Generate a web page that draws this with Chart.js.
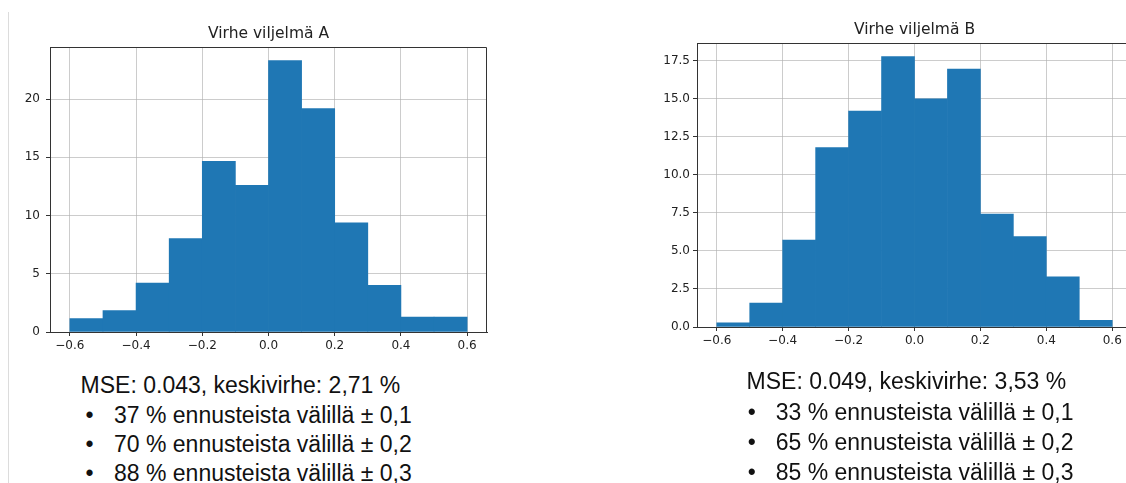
<!DOCTYPE html>
<html>
<head>
<meta charset="utf-8">
<script src="https://cdn.jsdelivr.net/npm/chart.js@4.4.1/dist/chart.umd.min.js"></script>
<style>
  body { margin: 0; width: 1126px; height: 483px; overflow: hidden; background: #fff; position: relative; font-family: "Liberation Sans", Arial, sans-serif; }
  canvas { position: absolute; top: 0; }
  #chartA { left: 0; }
  #chartB { left: 620px; }
  .rule { position: absolute; left: 8px; top: 12px; width: 1px; height: 471px; background: #dcdcdc; }
  .ln { position: absolute; font-size: 23px; line-height: 23px; color: #111; white-space: nowrap; }
</style>
</head>
<body>
<div class="rule"></div>
<canvas id="chartA" width="500" height="370"></canvas>
<canvas id="chartB" width="520" height="370"></canvas>
<div id="notes"></div>
<script>
// Histogram bins (centres of 0.1 wide bins)
const binCenters = [-0.55, -0.45, -0.35, -0.25, -0.15, -0.05, 0.05, 0.15, 0.25, 0.35, 0.45, 0.55];
const countsA = [1.15, 1.84, 4.2, 8.02, 14.66, 12.6, 23.3, 19.17, 9.37, 4.0, 1.29, 1.29];
const countsB = [0.28, 1.58, 5.72, 11.8, 14.2, 17.78, 15.0, 16.95, 7.42, 5.94, 3.29, 0.44];
const xTicks = [-0.6, -0.4, -0.2, 0.0, 0.2, 0.4, 0.6];
const yTicksA = [0, 5, 10, 15, 20];
const yTicksB = [0, 2.5, 5, 7.5, 10, 12.5, 15, 17.5];

// Stats below the charts
const mseA = '0.043', errA = '2,71';
const mseB = '0.049', errB = '3,53';
const withinA = [37, 70, 88];
const withinB = [33, 65, 85];
const ranges = ['0,1', '0,2', '0,3'];

const GRID = 'rgba(176,176,176,0.65)';
const SPINE = '#333';

// title over the plot + top/right frame like matplotlib
const framePlugin = {
    id: 'histTitle',
    afterDraw(chart, args, opts) {
        const ctx = chart.ctx, a = chart.chartArea;
        ctx.save();
        ctx.strokeStyle = SPINE;
        ctx.lineWidth = 1;
        ctx.beginPath();
        ctx.moveTo(a.left, Math.round(a.top) + 0.5);
        ctx.lineTo(Math.round(a.right) - 0.5, Math.round(a.top) + 0.5);
        ctx.lineTo(Math.round(a.right) - 0.5, a.bottom);
        ctx.stroke();
        ctx.font = '15.5px "DejaVu Sans"';
        ctx.fillStyle = '#222';
        ctx.textAlign = 'center';
        ctx.textBaseline = 'middle';
        ctx.fillText(opts.text, (a.left + a.right) / 2, a.top - 13);
        ctx.restore();
    }
};

function fmtX(v) {
    return (v < -1e-9 ? '\u2212' : '') + Math.abs(v).toFixed(1);
}

function hist(id, counts, yTicks, opt) {
    const ymax = Math.max(...counts) * 1.05;
    new Chart(document.getElementById(id), {
        type: 'bar',
        data: {
            datasets: [{
                data: binCenters.map((c, i) => ({ x: c, y: counts[i] })),
                backgroundColor: '#1f77b4',
                borderWidth: 0,
                barPercentage: 1,
                categoryPercentage: 1
            }]
        },
        options: {
            responsive: false,
            animation: false,
            layout: { padding: { top: opt.top, right: opt.right, left: 0, bottom: 0 } },
            plugins: {
                legend: { display: false },
                tooltip: { enabled: false },
                histTitle: { text: opt.title }
            },
            scales: {
                x: {
                    type: 'linear',
                    offset: false,
                    min: -0.66,
                    max: 0.66,
                    z: 1,
                    afterBuildTicks: s => { s.ticks = xTicks.map(v => ({ value: v })); },
                    afterFit: s => { s.height = opt.xh; },
                    grid: { offset: false, color: GRID, lineWidth: 1, tickColor: SPINE, tickLength: 4 },
                    border: { color: SPINE, width: 1 },
                    ticks: {
                        padding: 3,
                        maxRotation: 0,
                        color: '#222',
                        font: { family: 'DejaVu Sans', size: 12 },
                        callback: v => fmtX(v)
                    }
                },
                y: {
                    min: 0,
                    max: ymax,
                    z: 1,
                    afterBuildTicks: s => { s.ticks = yTicks.map(v => ({ value: v })); },
                    afterFit: s => { s.width = opt.yw; },
                    grid: { color: GRID, lineWidth: 1, tickColor: SPINE, tickLength: 4 },
                    border: { color: SPINE, width: 1 },
                    ticks: {
                        padding: opt.ypad,
                        color: '#222',
                        font: { family: 'DejaVu Sans', size: 12 },
                        callback: v => opt.yfmt(v)
                    }
                }
            }
        },
        plugins: [framePlugin]
    });
}

hist('chartA', countsA, yTicksA, {
    title: 'Virhe viljelmä A', top: 47, right: 13, xh: 38, yw: 50, ypad: 6,
    yfmt: v => String(v)
});
hist('chartB', countsB, yTicksB, {
    title: 'Virhe viljelmä B', top: 43, right: 8, xh: 43, yw: 77, ypad: 3,
    yfmt: v => v.toFixed(1)
});

// text blocks under the charts
function notes(x, tops, mse, err, within) {
    const box = document.getElementById('notes');
    const add = (left, top, txt) => {
        const d = document.createElement('div');
        d.className = 'ln';
        d.style.left = left + 'px';
        d.style.top = top + 'px';
        d.textContent = txt;
        box.appendChild(d);
    };
    add(x.head, tops[0], 'MSE: ' + mse + ', keskivirhe: ' + err + ' %');
    within.forEach((p, i) => {
        add(x.bullet, tops[i + 1], '\u2022');
        add(x.text, tops[i + 1], p + ' % ennusteista välillä ± ' + ranges[i]);
    });
}
notes({ head: 80.6, bullet: 85.5, text: 114 }, [373.5, 403.5, 432.5, 461.5], mseA, errA, withinA);
notes({ head: 746.6, bullet: 747.7, text: 775.7 }, [369.5, 400.5, 430.5, 460.5], mseB, errB, withinB);
</script>
</body>
</html>
